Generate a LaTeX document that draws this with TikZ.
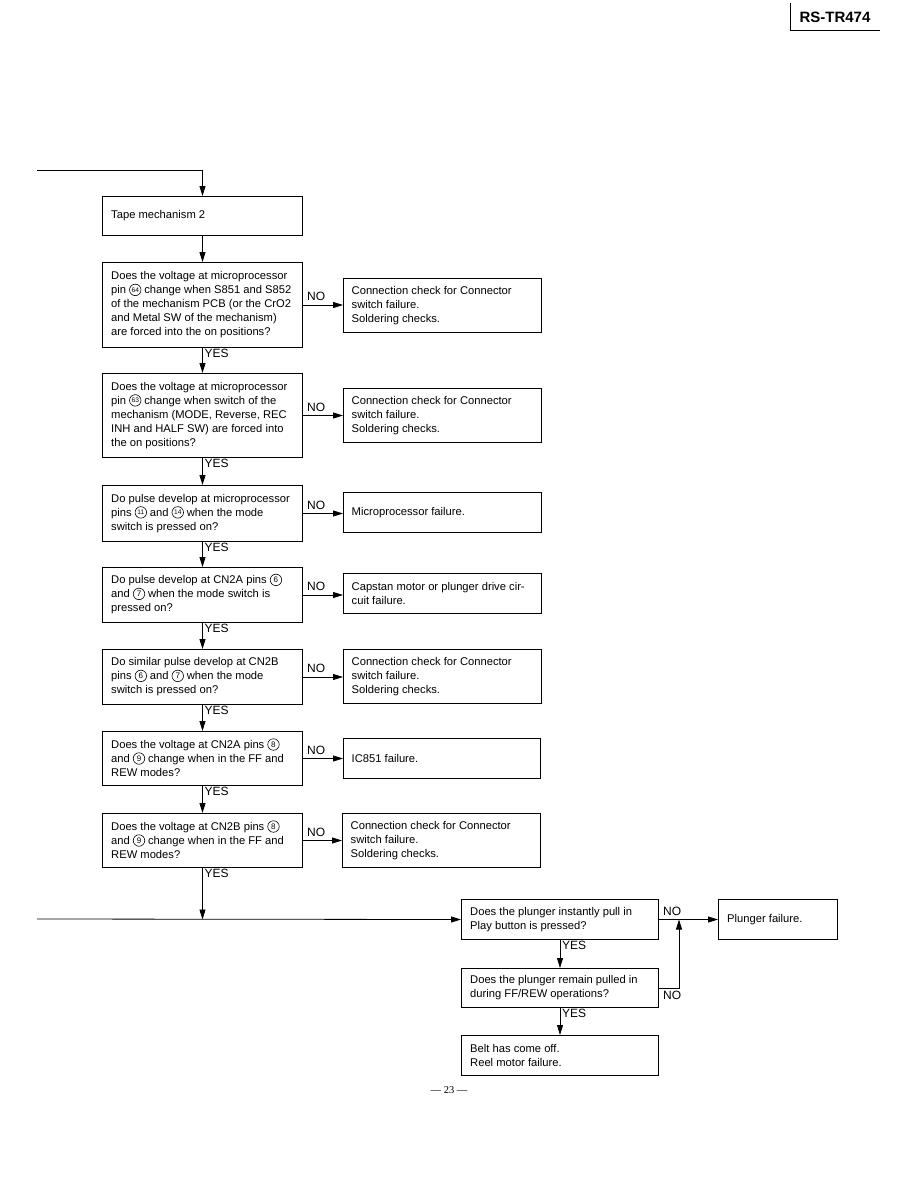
\documentclass[tikz,border=0pt]{standalone}
\usepackage{fontspec}
\usepackage{pict2e}
\setmainfont{Liberation Sans}
\newfontfamily\serifpg{Liberation Serif}
\usetikzlibrary{arrows.meta,calc}
\newcommand{\cnum}[2][8]{{\setlength{\unitlength}{1pt}\linethickness{0.6pt}\begin{picture}(12,8)\put(6,4){\circle{11.5}}\put(6,4){\makebox(0,0){\fontsize{#1}{#1}\selectfont #2}}\end{picture}}}
\tikzset{
  frame/.style={draw,line width=1pt,anchor=north west,inner sep=0pt},
  txt/.style={anchor=west,align=left,inner sep=0pt,font=\fontsize{11.2}{14}\selectfont},
  arr/.style={line width=0.8pt,-{Triangle[length=10pt,width=6pt]}},
  lab/.style={font=\fontsize{12}{13}\selectfont,inner sep=1pt}
}
\begin{document}
\begin{tikzpicture}[x=1pt,y=-1pt]
\useasboundingbox[fill=white] (0,0) rectangle (918,1188);
% header
\draw[line width=1pt] (790,3) coordinate (h1) -- (790,31) coordinate (h2) -- (880,31) coordinate (h3);
\node[font=\bfseries\fontsize{15}{15}\selectfont] (hdr) at (835,17) {RS-TR474};
% question boxes
\node[frame,minimum width=200pt,minimum height=39pt] (t1) at (102,196) {};
\node[txt] (t1t) at ($(t1.west)+(9,0)$) {Tape mechanism 2};
\node[frame,minimum width=200pt,minimum height=85pt] (q2) at (102,262) {};
\node[txt] (q2t) at ($(q2.west)+(9,0)$) {Does the voltage at microprocessor\\pin \cnum[6.6]{64} change when S851 and S852\\of the mechanism PCB (or the CrO2\\and Metal SW of the mechanism)\\are forced into the on positions?};
\node[frame,minimum width=200pt,minimum height=84pt] (q3) at (102,373) {};
\node[txt] (q3t) at ($(q3.west)+(9,0)$) {Does the voltage at microprocessor\\pin \cnum[6.6]{63} change when switch of the\\mechanism (MODE, Reverse, REC\\INH and HALF SW) are forced into\\the on positions?};
\node[frame,minimum width=200pt,minimum height=56pt] (q4) at (102,485) {};
\node[txt] (q4t) at ($(q4.west)+(9,0)$) {Do pulse develop at microprocessor\\pins \cnum[6.6]{11} and \cnum[6.6]{14} when the mode\\switch is pressed on?};
\node[frame,minimum width=200pt,minimum height=55pt] (q5) at (102,567) {};
\node[txt] (q5t) at ($(q5.west)+(9,0)$) {Do pulse develop at CN2A pins \cnum{6}\\and \cnum{7} when the mode switch is\\pressed on?};
\node[frame,minimum width=200pt,minimum height=55pt] (q6) at (102,649) {};
\node[txt] (q6t) at ($(q6.west)+(9,0)$) {Do similar pulse develop at CN2B\\pins \cnum{6} and \cnum{7} when the mode\\switch is pressed on?};
\node[frame,minimum width=200pt,minimum height=54pt] (q7) at (102,731) {};
\node[txt] (q7t) at ($(q7.west)+(9,0)$) {Does the voltage at CN2A pins \cnum{8}\\and \cnum{9} change when in the FF and\\REW modes?};
\node[frame,minimum width=200pt,minimum height=54pt] (q8) at (102,813) {};
\node[txt] (q8t) at ($(q8.west)+(9,0)$) {Does the voltage at CN2B pins \cnum{8}\\and \cnum{9} change when in the FF and\\REW modes?};
% result boxes
\node[frame,minimum width=198pt,minimum height=54pt] (r2) at (343,278) {};
\node[txt] (r2t) at ($(r2.west)+(8.5,0)$) {Connection check for Connector\\switch failure.\\Soldering checks.};
\node[frame,minimum width=198pt,minimum height=54pt] (r3) at (343,388) {};
\node[txt] (r3t) at ($(r3.west)+(8.5,0)$) {Connection check for Connector\\switch failure.\\Soldering checks.};
\node[frame,minimum width=198pt,minimum height=40pt] (r4) at (343,492) {};
\node[txt] (r4t) at ($(r4.west)+(8.5,0)$) {Microprocessor failure.};
\node[frame,minimum width=198pt,minimum height=40pt] (r5) at (343,573) {};
\node[txt] (r5t) at ($(r5.west)+(8.5,0)$) {Capstan motor or plunger drive cir-\\cuit failure.};
\node[frame,minimum width=198pt,minimum height=54pt] (r6) at (343,649) {};
\node[txt] (r6t) at ($(r6.west)+(8.5,0)$) {Connection check for Connector\\switch failure.\\Soldering checks.};
\node[frame,minimum width=197pt,minimum height=40pt] (r7) at (343,738) {};
\node[txt] (r7t) at ($(r7.west)+(8.5,0)$) {IC851 failure.};
\node[frame,minimum width=198pt,minimum height=54pt] (r8) at (342,813) {};
\node[txt] (r8t) at ($(r8.west)+(8.5,0)$) {Connection check for Connector\\switch failure.\\Soldering checks.};
% bottom right boxes
\node[frame,minimum width=197pt,minimum height=40pt] (q9) at (461,899) {};
\node[txt] (q9t) at ($(q9.west)+(9,0)$) {Does the plunger instantly pull in\\Play button is pressed?};
\node[frame,minimum width=119pt,minimum height=40pt] (p9) at (718,899) {};
\node[txt] (p9t) at ($(p9.west)+(9,0)$) {Plunger failure.};
\node[frame,minimum width=197pt,minimum height=39pt] (q10) at (461,968) {};
\node[txt] (q10t) at ($(q10.west)+(9,0)$) {Does the plunger remain pulled in\\during FF/REW operations?};
\node[frame,minimum width=197pt,minimum height=40pt] (q11) at (461,1035) {};
\node[txt] (q11t) at ($(q11.west)+(9,0)$) {Belt has come off.\\Reel motor failure.};
% top entry
\coordinate (in1) at (37,170);
\draw[arr] (in1) -| (t1.north);
\draw[arr] (t1.south) -- (q2.north);
% vertical YES chain
\foreach \a/\b in {q2/q3,q3/q4,q4/q5,q5/q6,q6/q7,q7/q8}{
  \draw[arr] (\a.south) -- (\b.north);
  \node[lab,anchor=north west] (y\a) at ($(\a.south)+(1,0)$) {YES};
}
% NO branches
\foreach \a/\b in {q2/r2,q3/r3,q4/r4,q5/r5,q6/r6,q7/r7,q8/r8}{
  \draw[arr] (\a.east) -- (\a.east -| \b.west);
  \node[lab,anchor=south west] (n\a) at ($(\a.east)+(3,-3)$) {NO};
}
% bottom
\coordinate (in2) at (37,919);
\coordinate (j) at (q8.south |- q9.west);
\draw[arr] (in2) -- (q9.west);
\draw[arr] (q8.south) -- (j);
\node[lab,anchor=north west] (yq8) at ($(q8.south)+(1,0)$) {YES};
\draw[arr] (q9.east) -- (p9.west);
\node[lab,anchor=south west] (nq9) at ($(q9.east)+(3,-3)$) {NO};
\coordinate (k) at ($(q9.east)+(20,0)$);
\draw[arr] (q10.east) -| (k);
\node[lab,anchor=north west] (nq10) at ($(q10.east)+(3,2)$) {NO};
\draw[arr] (q9.south) -- (q10.north);
\node[lab,anchor=north west] (yq9) at ($(q9.south)+(1,0)$) {YES};
\draw[arr] (q10.south) -- (q11.north);
\node[lab,anchor=north west] (yq10) at ($(q10.south)+(1,0)$) {YES};
% page number
\node[font=\serifpg\fontsize{10.5}{10.5}\selectfont] (pg) at (449,1090) {— 23 —};
\end{tikzpicture}
\end{document}
